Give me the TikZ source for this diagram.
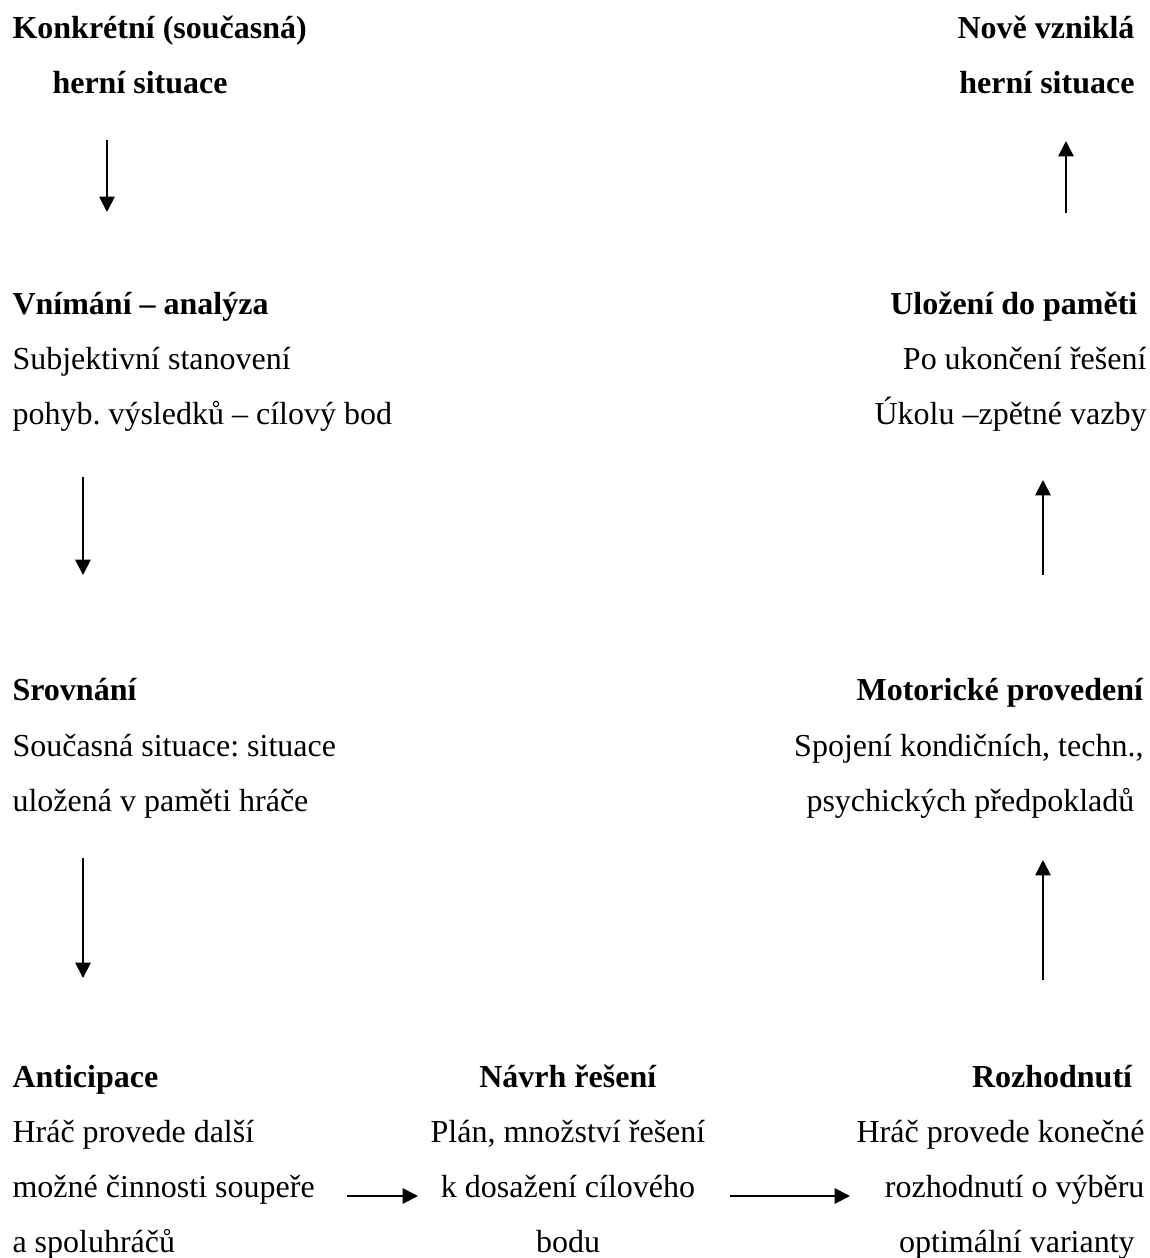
\documentclass[tikz,border=0pt]{standalone}
\usepackage{fontspec}
\setmainfont{Liberation Serif}
\usetikzlibrary{arrows.meta}
\frenchspacing

\begin{document}
\begin{tikzpicture}[x=0.375pt, y=-0.375pt,
    blok/.style={inner sep=0pt, font=\fontsize{12pt}{20.7pt}\selectfont},
    tucne/.style={blok, font=\fontsize{12pt}{20.7pt}\selectfont\bfseries},
    sipka/.style={line width=0.7pt, draw=black, -{Triangle[length=5.8pt, width=5.8pt]}}]
    \useasboundingbox (0,0) rectangle (1149,1258);

    % levy sloupec
    \node[tucne, anchor=north west, align=left] (L1) at (12,-0.6) {\strut Konkrétní (současná)\\\hspace*{15pt}herní situace};
    \node[blok, anchor=north west, align=left] (L2) at (12,275.4) {\strut\textbf{Vnímání – analýza}\\Subjektivní stanovení\\pohyb. výsledků – cílový bod};
    \node[blok, anchor=north west, align=left] (L3) at (12,661.8) {\strut\textbf{Srovnání}\\Současná situace: situace\\uložená v paměti hráče};
    \node[blok, anchor=north west, align=left] (L4) at (12,1048.2) {\strut\textbf{Anticipace}\\Hráč provede další\\možné činnosti soupeře\\a spoluhráčů};

    % stred
    \node[blok, anchor=north, align=center] (M4) at (568,1048.2) {\strut\textbf{Návrh řešení}\\Plán, množství řešení\\k dosažení cílového\\bodu};

    % pravy sloupec
    \node[tucne, anchor=north east, align=right] (R1) at (1135,-0.6) {\strut Nově vzniklá\\herní situace};
    \node[blok, anchor=north east, align=right] (R2) at (1147,275.4) {\strut\textbf{Uložení do paměti}\hspace*{3.4pt}\\Po ukončení řešení\\Úkolu –zpětné vazby};
    \node[blok, anchor=north east, align=right] (R3) at (1144,661.8) {\strut\textbf{Motorické provedení}\\Spojení kondičních, techn.,\\psychických předpokladů\hspace*{3.4pt}};
    \node[blok, anchor=north east, align=right] (R4) at (1145,1048.2) {\strut\textbf{Rozhodnutí}\hspace*{4.5pt}\\Hráč provede konečné\\rozhodnutí o výběru\hspace*{1.9pt}\\optimální varianty\hspace*{3.7pt}};

    % konce sipek
    \coordinate (L1s) at (107,140);
    \coordinate (L1t) at (107,212);
    \coordinate (L2s) at (83,477);
    \coordinate (L2t) at (83,575);
    \coordinate (L3s) at (83,858);
    \coordinate (L3t) at (83,978);
    \coordinate (L4s) at (347,1196);
    \coordinate (L4t) at (418,1196);
    \coordinate (M4s) at (730,1196);
    \coordinate (M4t) at (850,1196);
    \coordinate (R4s) at (1043,980);
    \coordinate (R4t) at (1043,860);
    \coordinate (R3s) at (1043,575);
    \coordinate (R3t) at (1043,480);
    \coordinate (R2s) at (1066,213);
    \coordinate (R2t) at (1066,141);

    \draw[sipka] (L1s) -- (L1t);
    \draw[sipka] (L2s) -- (L2t);
    \draw[sipka] (L3s) -- (L3t);
    \draw[sipka] (L4s) -- (L4t);
    \draw[sipka] (M4s) -- (M4t);
    \draw[sipka] (R4s) -- (R4t);
    \draw[sipka] (R3s) -- (R3t);
    \draw[sipka] (R2s) -- (R2t);
\end{tikzpicture}
\end{document}
